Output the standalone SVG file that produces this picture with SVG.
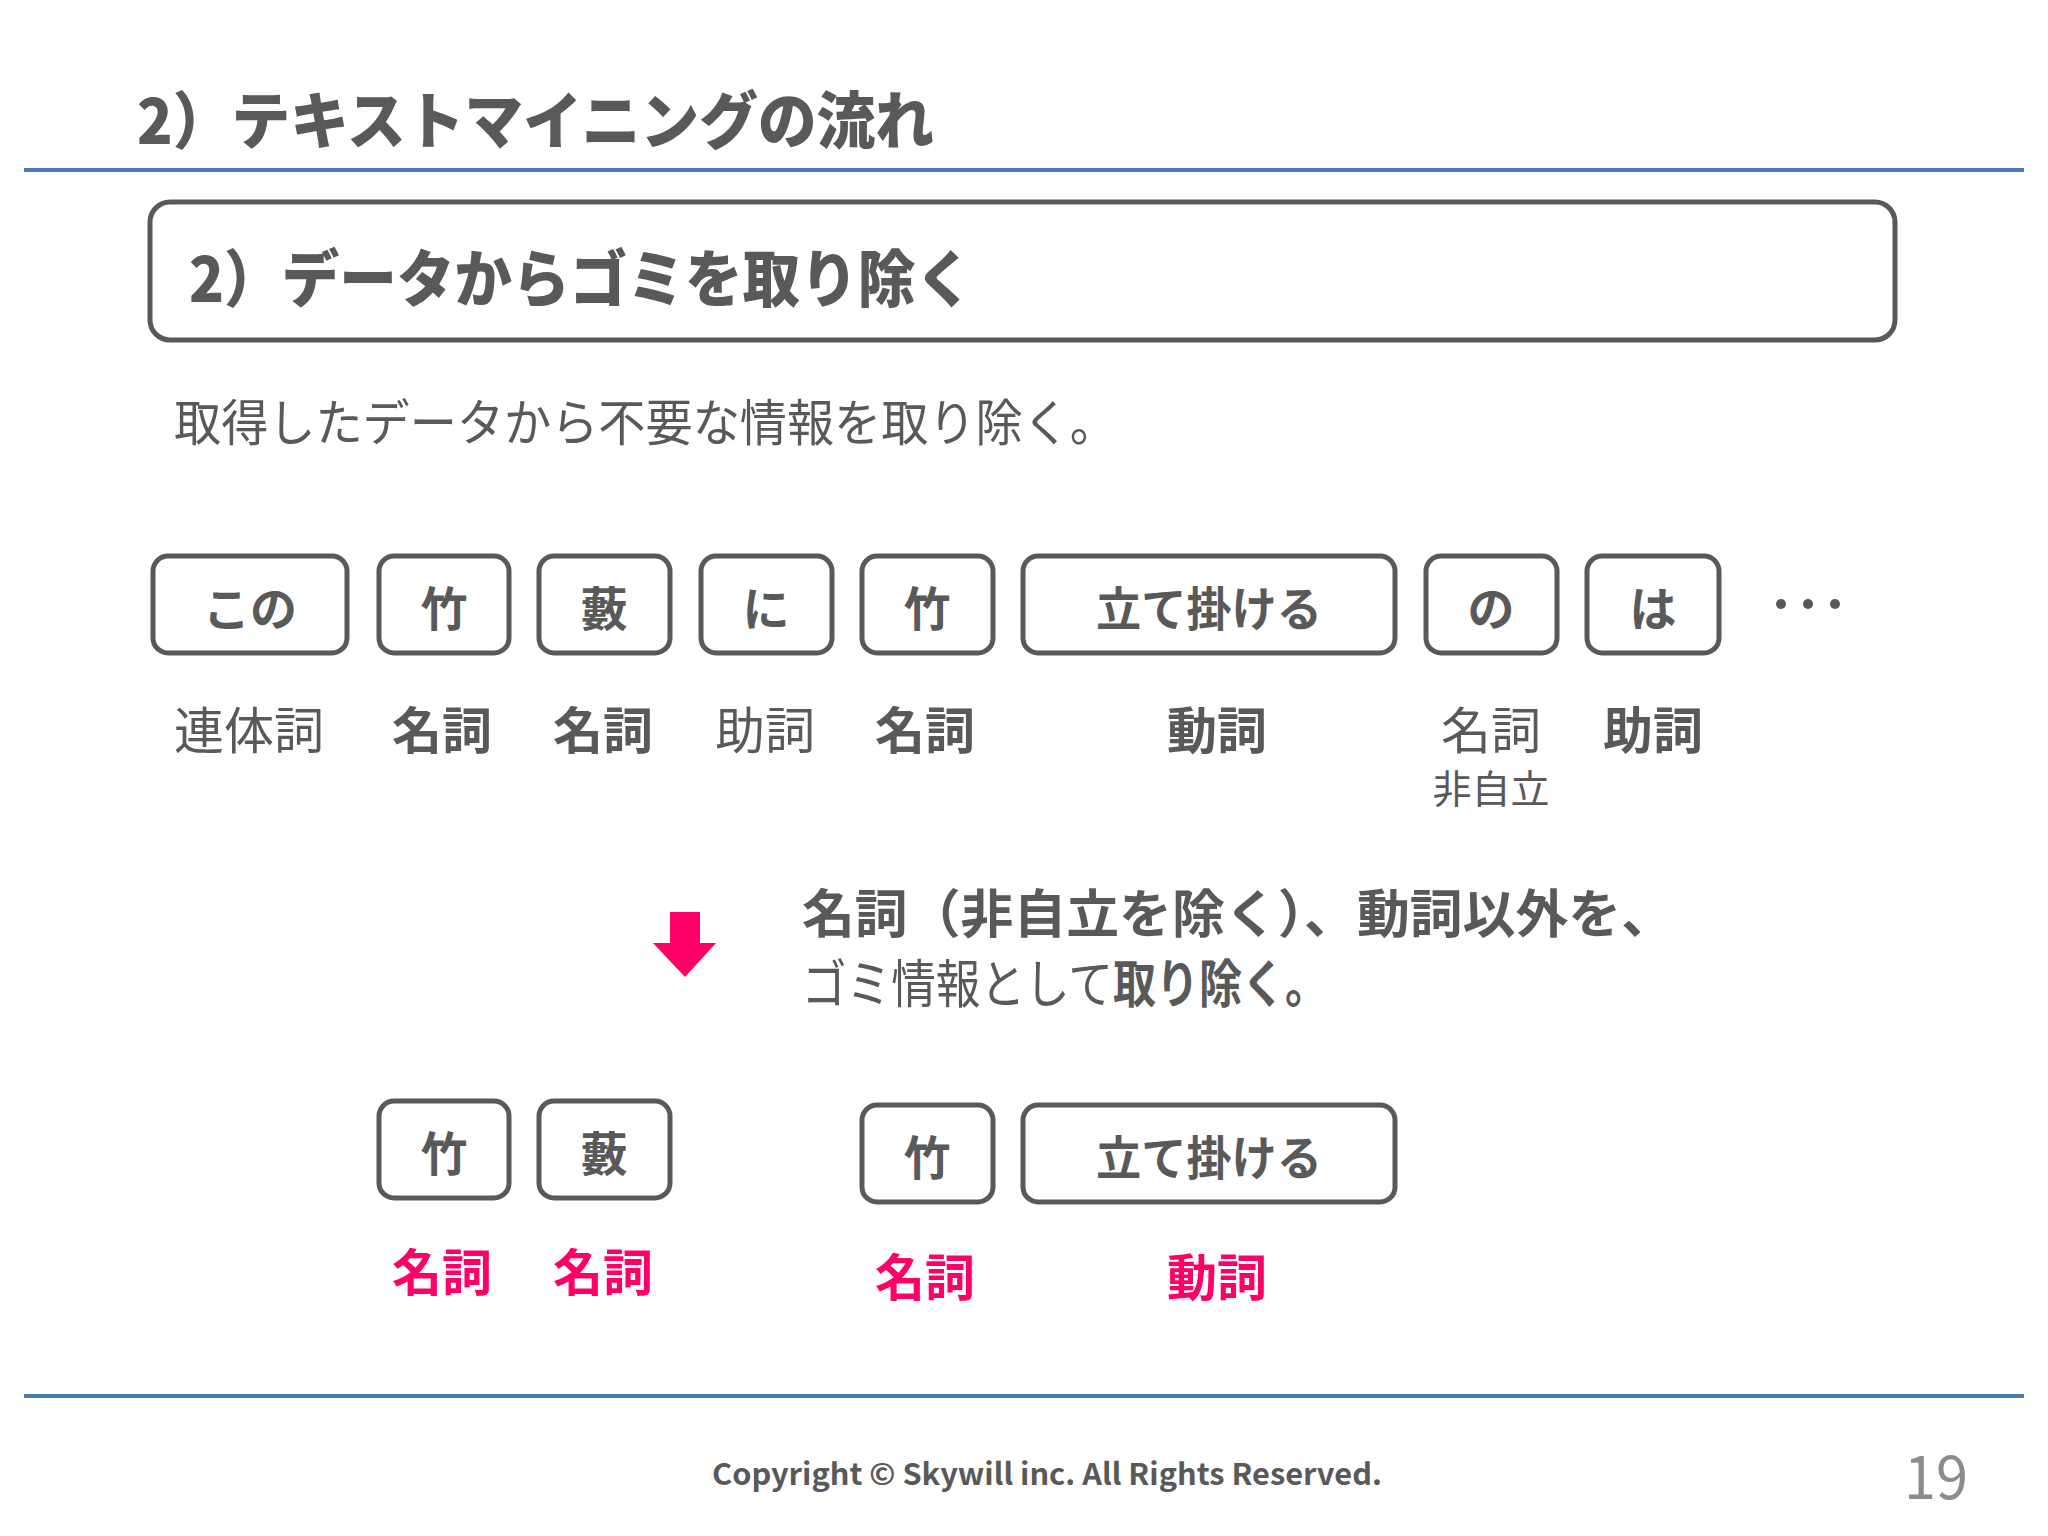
<svg xmlns="http://www.w3.org/2000/svg" width="2048" height="1536" viewBox="0 0 2048 1536">
<style>
text{font-family:"Noto Sans CJK JP","Noto Sans",sans-serif;fill:#595959;dominant-baseline:central}
.b{font-weight:bold}
.h{font-weight:900}
.n{font-weight:normal}
.box{fill:#fff;stroke:#595959;stroke-width:5}
.bt{font-size:47px;font-weight:bold;text-anchor:middle}
.lab{font-size:50px;text-anchor:middle}
.pk{fill:#ff0066;font-weight:bold}
.rule{stroke:#4a7ab5;stroke-width:4}
</style>
<rect width="2048" height="1536" fill="#fff"/>
<g id="header">
<text x="137" y="117" class="h" font-size="62" textLength="797" lengthAdjust="spacingAndGlyphs">2）テキストマイニングの流れ</text>
<line class="rule" x1="24" y1="170" x2="2024" y2="170"/>
</g>
<g id="section-box">
<rect x="150" y="202" width="1745" height="138" rx="20" fill="#fff" stroke="#595959" stroke-width="5"/>
<text x="189" y="275" class="h" font-size="62" textLength="784" lengthAdjust="spacingAndGlyphs">2）データからゴミを取り除く</text>
</g>
<text id="subtitle" x="174" y="419" class="n" font-size="50" textLength="943" lengthAdjust="spacingAndGlyphs">取得したデータから不要な情報を取り除く。</text>
<g id="row1">
<g id="n1"><rect class="box" x="153" y="556" width="194" height="97" rx="15"/><text class="bt" x="250" y="605">この</text></g>
<g id="n2"><rect class="box" x="379" y="556" width="130" height="97" rx="15"/><text class="bt" x="444" y="605">竹</text></g>
<g id="n3"><rect class="box" x="539" y="556" width="131" height="97" rx="15"/><text class="bt" x="604" y="605">藪</text></g>
<g id="n4"><rect class="box" x="701" y="556" width="131" height="97" rx="15"/><text class="bt" x="766" y="605">に</text></g>
<g id="n5"><rect class="box" x="862" y="556" width="131" height="97" rx="15"/><text class="bt" x="927" y="605">竹</text></g>
<g id="n6"><rect class="box" x="1023" y="556" width="372" height="97" rx="15"/><text class="bt" x="1209" y="605" textLength="226" lengthAdjust="spacingAndGlyphs">立て掛ける</text></g>
<g id="n7"><rect class="box" x="1426" y="556" width="131" height="97" rx="15"/><text class="bt" x="1491" y="605">の</text></g>
<g id="n8"><rect class="box" x="1587" y="556" width="132" height="97" rx="15"/><text class="bt" x="1653" y="605">は</text></g>
<g id="ellipsis" fill="#595959"><circle cx="1781" cy="604" r="5"/><circle cx="1808" cy="604" r="5"/><circle cx="1835" cy="604" r="5"/></g>
</g>
<g id="labels1">
<text class="lab n" x="249" y="727">連体詞</text>
<text class="lab b" x="442" y="727">名詞</text>
<text class="lab b" x="603" y="727">名詞</text>
<text class="lab n" x="765" y="727">助詞</text>
<text class="lab b" x="925" y="727">名詞</text>
<text class="lab b" x="1217" y="727">動詞</text>
<text class="lab n" x="1491" y="727">名詞</text>
<text class="n" x="1491" y="786" font-size="39" text-anchor="middle">非自立</text>
<text class="lab b" x="1653" y="727">助詞</text>
</g>
<g id="connectors">
<path d="M670 912 H700 V943 H716 L685 977 L653 943 H670 Z" fill="#ff0066"/>
</g>
<g id="note">
<text font-size="52"><tspan x="802" y="910" class="b" textLength="872" lengthAdjust="spacingAndGlyphs">名詞（非自立を除く）、動詞以外を、</tspan><tspan x="802" y="980" class="n" textLength="311" lengthAdjust="spacingAndGlyphs">ゴミ情報として</tspan><tspan class="b" textLength="215" lengthAdjust="spacingAndGlyphs">取り除く。</tspan></text>
</g>
<g id="row2">
<g id="m1"><rect class="box" x="379" y="1101" width="130" height="97" rx="15"/><text class="bt" x="444" y="1150">竹</text></g>
<g id="m2"><rect class="box" x="539" y="1101" width="131" height="97" rx="15"/><text class="bt" x="604" y="1150">藪</text></g>
<g id="m3"><rect class="box" x="862" y="1105" width="131" height="97" rx="15"/><text class="bt" x="927" y="1154">竹</text></g>
<g id="m4"><rect class="box" x="1023" y="1105" width="372" height="97" rx="15"/><text class="bt" x="1209" y="1154" textLength="226" lengthAdjust="spacingAndGlyphs">立て掛ける</text></g>
</g>
<g id="labels2">
<text class="lab pk" x="442" y="1269">名詞</text>
<text class="lab pk" x="603" y="1269">名詞</text>
<text class="lab pk" x="925" y="1274">名詞</text>
<text class="lab pk" x="1217" y="1274">動詞</text>
</g>
<g id="footer">
<line class="rule" x1="24" y1="1396" x2="2024" y2="1396"/>
<text x="712" y="1472" class="b" font-size="30" font-family="'DejaVu Sans',sans-serif" textLength="670" lengthAdjust="spacingAndGlyphs">Copyright © Skywill inc. All Rights Reserved.</text>
<text x="1904" y="1472" font-size="60" style="fill:#8c8c8c" font-family="'DejaVu Sans Condensed','DejaVu Sans',sans-serif" textLength="64" lengthAdjust="spacingAndGlyphs">19</text>
</g>
</svg>
